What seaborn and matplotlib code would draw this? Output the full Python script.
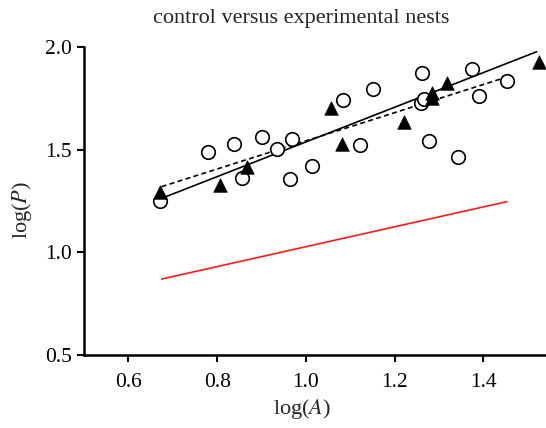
import numpy as np
import pandas as pd
import seaborn as sns
import matplotlib.pyplot as plt

# control nests (open circles)
ctrl_x = [0.671, 0.780, 0.838, 0.901, 0.857, 0.934, 0.969, 0.964, 1.013, 1.083,
          1.122, 1.151, 1.259, 1.266, 1.261, 1.278, 1.342, 1.374, 1.389, 1.453]
ctrl_y = [1.248, 1.490, 1.528, 1.563, 1.364, 1.502, 1.554, 1.357, 1.421, 1.742,
          1.521, 1.796, 1.729, 1.745, 1.875, 1.542, 1.463, 1.892, 1.762, 1.836]

# experimental nests (filled triangles)
exp_x = [0.671, 0.806, 0.867, 1.057, 1.082, 1.222, 1.284, 1.284, 1.317, 1.526]
exp_y = [1.294, 1.328, 1.417, 1.702, 1.526, 1.636, 1.775, 1.750, 1.823, 1.929]

# fitted lines (end points)
ctrl_fit_x = [0.675, 1.520]
ctrl_fit_y = [1.263, 1.977]
exp_fit_x = [0.675, 1.440]
exp_fit_y = [1.320, 1.845]
ref_x = [0.675, 1.453]
ref_y = [0.870, 1.247]

sns.set_style("ticks")
plt.rcParams['font.family'] = ['Liberation Serif', 'DejaVu Serif']
plt.rcParams['mathtext.fontset'] = 'stix'

fig = plt.figure(figsize=(5.46, 4.28), dpi=100)
ax = fig.add_axes([84 / 546, 73 / 428, 462 / 546, 308 / 428])

ctrl = pd.DataFrame({"x": ctrl_x, "y": ctrl_y})
exp = pd.DataFrame({"x": exp_x, "y": exp_y})

sns.lineplot(x=ref_x, y=ref_y, color="#ff1a1a", linewidth=1.2, ax=ax)
sns.lineplot(x=ctrl_fit_x, y=ctrl_fit_y, color="black", linewidth=1.2, ax=ax)
sns.lineplot(x=exp_fit_x, y=exp_fit_y, color="black", linewidth=1.2,
             linestyle=(0, (3, 2)), ax=ax)
sns.scatterplot(data=ctrl, x="x", y="y", marker="o", s=95, facecolor="white",
                edgecolor="black", linewidth=1.2, ax=ax, zorder=3)
sns.scatterplot(data=exp, x="x", y="y", marker="^", s=95, color="black",
                edgecolor="black", linewidth=0.5, ax=ax, zorder=4)

ax.set_xlim(0.5, 1.541)
ax.set_ylim(0.5, 2.0)
ax.set_xticks([0.6, 0.8, 1.0, 1.2, 1.4])
ax.set_xticklabels(["0.6", "0.8", "1.0", "1.2", "1.4"])
ax.set_yticks([0.5, 1.0, 1.5, 2.0])
ax.set_yticklabels(["0.5", "1.0", "1.5", "2.0"])
ax.tick_params(labelsize=15.5, width=1.5, length=5, color="black", labelcolor="black")
ax.tick_params(axis="x", pad=8)
for side in ["left", "bottom"]:
    ax.spines[side].set_linewidth(1.8)
    ax.spines[side].set_color("black")
sns.despine(ax=ax)

ax.set_xlabel(r"log($\mathit{A}$)", fontsize=16)
ax.set_ylabel(r"log($\mathit{P}$)", fontsize=16)
ax.xaxis.set_label_coords((302 - 84) / 462, -0.135)
ax.yaxis.set_label_coords(-0.108, 0.47)
fig.text(301 / 546, 1 - 19 / 428, "control versus experimental nests",
         fontsize=16, ha="center", va="center")

fig.savefig("out.png", dpi=100)
